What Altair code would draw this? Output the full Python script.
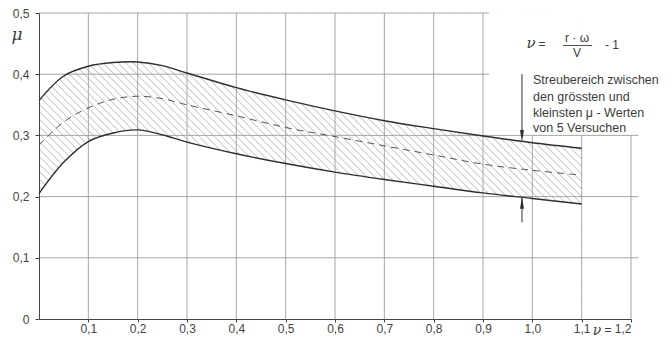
import altair as alt
import pandas as pd

# --- data ---
nu = [0.0, 0.05, 0.1, 0.15, 0.2, 0.25, 0.3, 0.4, 0.5, 0.6, 0.7, 0.8, 0.9, 1.0, 1.1]
mu_max = [0.357, 0.397, 0.413, 0.419, 0.420, 0.414, 0.402, 0.378, 0.358, 0.340, 0.324, 0.311, 0.299, 0.288, 0.279]
mu_mean = [0.284, 0.322, 0.345, 0.359, 0.364, 0.360, 0.350, 0.332, 0.313, 0.298, 0.283, 0.268, 0.253, 0.243, 0.235]
mu_min = [0.205, 0.256, 0.290, 0.304, 0.309, 0.301, 0.289, 0.270, 0.254, 0.240, 0.228, 0.217, 0.206, 0.197, 0.188]

x_ticks = [0.1, 0.2, 0.3, 0.4, 0.5, 0.6, 0.7, 0.8, 0.9, 1.0, 1.1, 1.2]
y_ticks = [0.0, 0.1, 0.2, 0.3, 0.4, 0.5]

# grid lines (drawn partially, as in the drawing)
vgrid_nu = [0.1, 0.2, 0.3, 0.4, 0.5, 0.6, 0.7, 0.8, 0.9, 1.0, 1.1, 1.2]
vgrid_top = [0.5, 0.5, 0.5, 0.5, 0.5, 0.5, 0.5, 0.5, 0.5, 0.3, 0.3, 0.3]
hgrid_mu = [0.1, 0.2, 0.3, 0.4, 0.5]
hgrid_end = [1.215, 1.215, 1.215, 0.912, 0.912]

arrow_nu = 0.979

W, H = 592, 306
FONT = "Liberation Sans"
INK = "#2e2e2e"
GRID = "#9c9c9c"
TXT = "#3c3c3c"
INTERP = "catmull-rom"

band = pd.DataFrame({"nu": nu, "max": mu_max, "mean": mu_mean, "min": mu_min})
vg = pd.DataFrame({"nu": vgrid_nu, "top": vgrid_top})
hg = pd.DataFrame({"mu": hgrid_mu, "end": hgrid_end})

xs = alt.Scale(domain=[0, 1.2], nice=False, zero=False)
ys = alt.Scale(domain=[0, 0.5], nice=False, zero=False)

# hatching inside the scatter band (style only)
r = (0.5 / H) / (1.2 / W)
hatch = (
    alt.Chart(alt.sequence(start=-0.64, stop=1.1, step=0.0152, as_="h"))
    .transform_calculate(
        x1="max(datum.h, 0)",
        x2=f"min(datum.h + {0.5 / r}, 1.1)",
    )
    .transform_calculate(
        y1=f"0.5 - (datum.x1 - datum.h) * {r}",
        y2=f"0.5 - (datum.x2 - datum.h) * {r}",
    )
    .transform_filter("datum.x2 > datum.x1")
    .mark_rule(color="#a2a2a2", strokeWidth=0.75)
    .encode(
        x=alt.X("x1:Q", scale=xs),
        x2="x2:Q",
        y=alt.Y("y1:Q", scale=ys),
        y2="y2:Q",
    )
)

base = alt.Chart(band).transform_calculate(ytop="0.5", ybot="0")
mask_top = base.mark_area(color="white", interpolate=INTERP, opacity=1).encode(
    x=alt.X("nu:Q", scale=xs),
    y=alt.Y("max:Q", scale=ys),
    y2="ytop:Q",
)
mask_bot = base.mark_area(color="white", interpolate=INTERP, opacity=1).encode(
    x=alt.X("nu:Q", scale=xs),
    y=alt.Y("min:Q", scale=ys),
    y2="ybot:Q",
)

vgrid = alt.Chart(vg).transform_calculate(z="0").mark_rule(color=GRID, strokeWidth=0.9).encode(
    x=alt.X("nu:Q", scale=xs), y=alt.Y("z:Q", scale=ys), y2="top:Q"
)
hgrid = alt.Chart(hg).transform_calculate(z="0").mark_rule(color=GRID, strokeWidth=0.9).encode(
    y=alt.Y("mu:Q", scale=ys), x=alt.X("z:Q", scale=xs), x2="end:Q"
)

upper = base.mark_line(color=INK, strokeWidth=1.4, interpolate=INTERP).encode(
    x=alt.X("nu:Q", scale=xs), y=alt.Y("max:Q", scale=ys)
)
lower = base.mark_line(color=INK, strokeWidth=1.4, interpolate=INTERP).encode(
    x=alt.X("nu:Q", scale=xs), y=alt.Y("min:Q", scale=ys)
)
mean = base.mark_line(color="#555555", strokeWidth=1, strokeDash=[7, 5], interpolate=INTERP).encode(
    x=alt.X("nu:Q", scale=xs), y=alt.Y("mean:Q", scale=ys)
)

# axes
axes = alt.Chart(pd.DataFrame({"nu": [0.0], "mu": [0.0]})).mark_point(opacity=0).encode(
    x=alt.X(
        "nu:Q",
        scale=xs,
        title=None,
        axis=alt.Axis(
            values=x_ticks,
            grid=False,
            labelExpr="replace(format(datum.value, '.1f'), '.', ',')",
            domainColor="#444",
            tickColor="#444",
            tickSize=3,
            labelPadding=1,
            labelFont=FONT,
            labelFontSize=12,
            labelColor="#444",
            zindex=1,
        ),
    ),
    y=alt.Y(
        "mu:Q",
        scale=ys,
        title=None,
        axis=alt.Axis(
            values=y_ticks,
            grid=False,
            labelExpr="datum.value == 0 ? '0' : replace(format(datum.value, '.1f'), '.', ',')",
            domainColor="#444",
            tickColor="#444",
            tickSize=4,
            labelPadding=6,
            labelFont=FONT,
            labelFontSize=12,
            labelColor="#444",
            zindex=1,
        ),
    ),
)

# arrows marking the scatter band
arrow_df = pd.DataFrame({"nu": [arrow_nu, arrow_nu], "a": [0.40, 0.198], "b": [0.30, 0.158]})
arrow_lines = alt.Chart(arrow_df).mark_rule(color=INK, strokeWidth=1).encode(
    x=alt.X("nu:Q", scale=xs), y=alt.Y("a:Q", scale=ys), y2="b:Q"
)
heads = pd.DataFrame({"nu": [arrow_nu, arrow_nu], "mu": [0.299, 0.190], "dir": ["down", "up"]})
head_down = alt.Chart(heads).transform_filter("datum.dir == 'down'").mark_point(
    shape="M -0.32 -1 L 0.32 -1 L 0 1 Z", filled=True, color=INK, size=150, opacity=1
).encode(x=alt.X("nu:Q", scale=xs), y=alt.Y("mu:Q", scale=ys))
head_up = alt.Chart(heads).transform_filter("datum.dir == 'up'").mark_point(
    shape="M -0.32 1 L 0.32 1 L 0 -1 Z", filled=True, color=INK, size=150, opacity=1
).encode(x=alt.X("nu:Q", scale=xs), y=alt.Y("mu:Q", scale=ys))


def txt(s, x, y, size=12.5, align="left", font=FONT, style="normal", color=TXT):
    return alt.Chart(pd.DataFrame({"t": [s]})).mark_text(
        align=align, baseline="middle", fontSize=size, font=font, fontStyle=style, color=color
    ).encode(text="t:N", x=alt.value(x), y=alt.value(y))


texts = [
    txt("μ", -22, 22, size=17, align="center", font="DejaVu Serif", style="italic"),
    txt("ν", 558, 318, size=14, align="center", font="DejaVu Serif", style="italic"),
    txt("=", 569, 317, size=12, align="center"),
    # formula
    txt("ν", 492, 30, size=15, align="center", font="DejaVu Serif", style="italic"),
    txt("=", 503, 31, size=12, align="center"),
    txt("r · ω", 538, 25, size=12, align="center"),
    txt("V", 538, 40, size=12, align="center"),
    txt("- 1", 566, 32, size=12, align="left"),
    # annotation
    txt("Streubereich  zwischen", 494, 67),
    txt("den  grössten  und", 494, 84),
    txt("kleinsten  μ - Werten", 494, 100),
    txt("von  5  Versuchen", 494, 115),
]

# fraction bar of the formula, placed in data units converted from pixel layout
px_to_nu = lambda px: px / W * 1.2
px_to_mu = lambda py: 0.5 - py / H * 0.5
frac_bar = (
    alt.Chart(pd.DataFrame({"k": [0]}))
    .transform_calculate(
        bx1=f"{px_to_nu(524)}", bx2=f"{px_to_nu(553)}", by=f"{px_to_mu(32.5)}"
    )
    .mark_rule(color=TXT, strokeWidth=0.9)
    .encode(x=alt.X("bx1:Q", scale=xs), x2="bx2:Q", y=alt.Y("by:Q", scale=ys))
)

chart = (
    alt.layer(
        hatch, mask_top, mask_bot, vgrid, hgrid, mean, upper, lower,
        arrow_lines, head_down, head_up, axes, frac_bar, *texts
    )
    .properties(
        width=W,
        height=H,
        autosize=alt.AutoSizeParams(type="none"),
        padding={"left": 31, "top": 5, "right": 33, "bottom": 18},
        background="white",
    )
    .configure_view(stroke=None)
)

chart.save("out.html", embed_options={"renderer": "svg", "actions": False})
